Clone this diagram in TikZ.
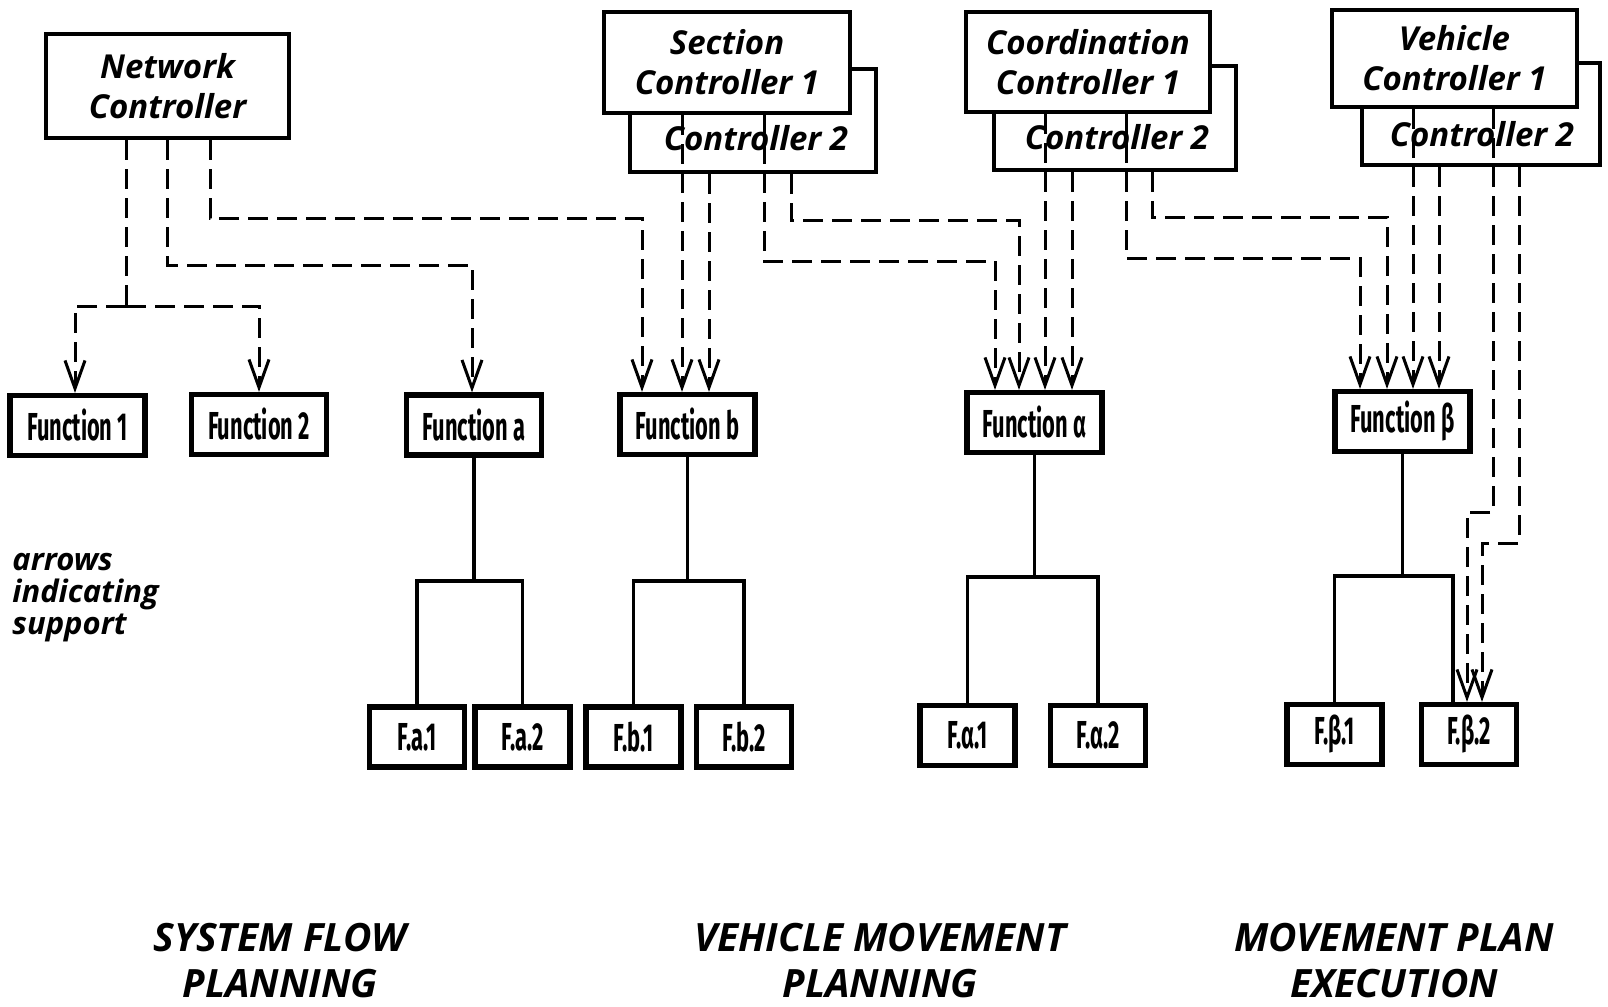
\documentclass[tikz,border=0pt]{standalone}
\usepackage{fontspec}
\setmainfont{Open Sans}
\newfontfamily\condf[FakeStretch=0.56]{Fira Sans}
\usetikzlibrary{arrows.meta}
\begin{document}
\begin{tikzpicture}[x=0.5pt,y=-0.5pt,
  ctrl/.style={draw,line width=2pt,fill=white,inner sep=0pt,align=center,
    font=\fontsize{16.5}{20}\selectfont\bfseries\itshape},
  ctxt/.style={inner sep=0pt,font=\fontsize{16.5}{20}\selectfont\bfseries\itshape},
  func/.style={draw,line width=2.6pt,fill=white,minimum width=67.5pt,minimum height=30pt,
    inner sep=0pt,font=\condf\fontsize{19.5}{20}\selectfont\bfseries},
  leaf/.style={func,minimum width=47.5pt},
  tree/.style={line width=1.8pt},
  dep/.style={line width=1.5pt,dash pattern=on 10pt off 4.5pt,
    -{Straight Barb[length=14pt,width=10pt,line width=1.5pt]}},
  depn/.style={line width=1.5pt,dash pattern=on 10pt off 4.5pt},
  note/.style={inner sep=0pt,align=left,font=\fontsize{15.5}{16}\selectfont\bfseries\itshape},
  phase/.style={inner sep=0pt,align=center,font=\fontsize{19.5}{23}\selectfont\bfseries\itshape}
]
\path[use as bounding box] (0,0) rectangle (1608,1007);

% controllers
\node[ctrl,minimum width=121.5pt,minimum height=52pt] (nc) at (167.5,86) {Network\\Controller};

\node[ctrl,minimum width=123pt,minimum height=51.5pt] (sc2) at (753,120.5) {};
\node[ctxt] (sc2t) at (756,138) {Controller 2};
\node[ctrl,minimum width=123pt,minimum height=50.5pt] (sc1) at (727,62.5) {Section\\Controller 1};

\node[ctrl,minimum width=121pt,minimum height=52pt] (cc2) at (1115,118) {};
\node[ctxt] (cc2t) at (1117,137) {Controller 2};
\node[ctrl,minimum width=122pt,minimum height=50pt] (cc1) at (1088,62) {Coordination\\Controller 1};

\node[ctrl,minimum width=119pt,minimum height=51pt] (vc2) at (1481,114) {};
\node[ctxt] (vc2t) at (1482,134) {Controller 2};
\node[ctrl,minimum width=122.5pt,minimum height=48.5pt] (vc1) at (1454.5,58.5) {Vehicle\\Controller 1};

% functions
\node[func] (f1) at (77.5,425.5) {Function 1};
\node[func] (f2) at (259,424.5) {Function 2};
\node[func] (fa) at (474,425) {Function a};
\node[func] (fb) at (687.5,424.5) {Function b};
\node[func] (fal) at (1034.5,422.5) {Function α};
\node[func] (fbe) at (1402.5,421.5) {Function β};

% leaves
\node[leaf] (Fa1) at (417,737) {F.a.1};
\node[leaf] (Fa2) at (522.5,737) {F.a.2};
\node[leaf] (Fb1) at (633.5,737) {F.b.1};
\node[leaf] (Fb2) at (744,737) {F.b.2};
\node[leaf] (Fal1) at (967.5,735.5) {F.α.1};
\node[leaf] (Fal2) at (1098,735.5) {F.α.2};
\node[leaf] (Fbe1) at (1334.5,734.5) {F.β.1};
\node[leaf] (Fbe2) at (1469,734.5) {F.β.2};

% trees
\draw[tree] (fa.south) -- (fa.south |- 0,581);
\draw[tree] (Fa1.north) |- (fa.south |- 0,581) -| (Fa2.north);
\draw[tree] (fb.south) -- (fb.south |- 0,581);
\draw[tree] (Fb1.north) |- (fb.south |- 0,581) -| (Fb2.north);
\draw[tree] (fal.south) -- (fal.south |- 0,577);
\draw[tree] (Fal1.north) |- (fal.south |- 0,577) -| (Fal2.north);
\draw[tree] (fbe.south) -- (fbe.south |- 0,576);
\draw[tree] (Fbe1.north) |- (fbe.south |- 0,576) -| (Fbe2.north -| 1453,0);

% network controller support
\draw[depn] (nc.south -| 126,0) -- (126,306);
\draw[dep] (126,306) -| (f1.north -| 75,0);
\draw[dep] (126,306) -| (f2.north);
\draw[dep] (nc.south -| 167,0) -- (167,265) -| (fa.north -| 472,0);
\draw[dep] (nc.south -| 210,0) -- (210,218) -| (fb.north -| 642,0);

% section controllers
\draw[dep] (sc1.south -| 682,0) -- (fb.north -| 682,0);
\draw[dep] (sc2.south -| 709,0) -- (fb.north -| 709,0);
\draw[dep] (sc1.south -| 764,0) -- (764,261) -| (fal.north -| 995,0);
\draw[dep] (sc2.south -| 791,0) -- (791,220) -| (fal.north -| 1019,0);

% coordination controllers
\draw[dep] (cc1.south -| 1045,0) -- (fal.north -| 1045,0);
\draw[dep] (cc2.south -| 1072,0) -- (fal.north -| 1072,0);
\draw[dep] (cc1.south -| 1126,0) -- (1126,258) -| (fbe.north -| 1360,0);
\draw[dep] (cc2.south -| 1152,0) -- (1152,217) -| (fbe.north -| 1387,0);

% vehicle controllers
\draw[dep] (vc1.south -| 1413,0) -- (fbe.north -| 1413,0);
\draw[dep] (vc2.south -| 1439,0) -- (fbe.north -| 1439,0);
\draw[dep] (vc1.south -| 1493,0) -- (1493,512) -- (1467,512) -- (Fbe2.north -| 1467,0);
\draw[dep] (vc2.south -| 1519,0) -- (1519,543) -- (1482,543) -- (Fbe2.north -| 1482,0);

% texts
\node[note,anchor=west] (note) at (12,598) {arrows\\indicating\\support};
\node[phase] (p1) at (280,961) {SYSTEM FLOW\\PLANNING};
\node[phase] (p2) at (880,961) {VEHICLE MOVEMENT\\PLANNING};
\node[phase] (p3) at (1394,961) {MOVEMENT PLAN\\EXECUTION};
\end{tikzpicture}
\end{document}
